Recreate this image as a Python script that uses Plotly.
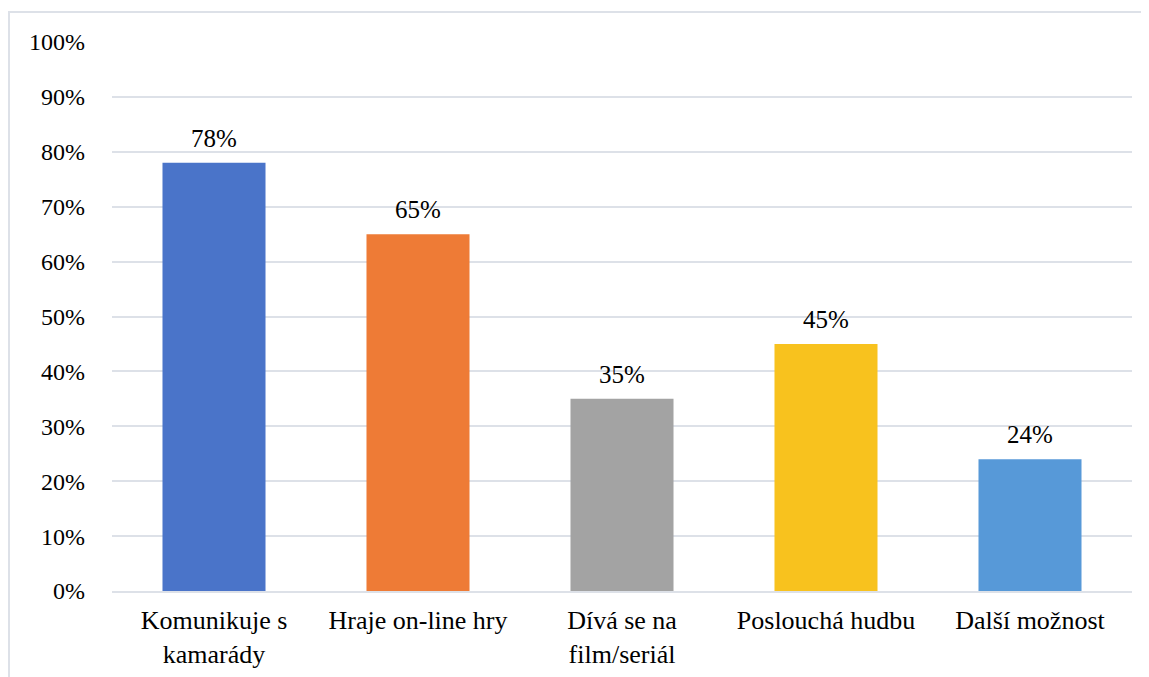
import plotly.graph_objects as go

categories = ["Komunikuje s<br>kamarády", "Hraje on-line hry", "Dívá se na<br>film/seriál",
              "Poslouchá hudbu", "Další možnost"]
values = [78, 65, 35, 45, 24]
value_labels = ["78%", "65%", "35%", "45%", "24%"]
colors = ["#4A74C9", "#EE7B36", "#A3A3A3", "#F8C21E", "#5799D8"]
tick_vals = [0, 10, 20, 30, 40, 50, 60, 70, 80, 90, 100]
tick_text = ["0%", "10%", "20%", "30%", "40%", "50%", "60%", "70%", "80%", "90%", "100%"]

_GRID = "#DDE1E8"
_FONT = "Liberation Serif, Times New Roman, serif"

fig = go.Figure(
    go.Bar(
        x=categories,
        y=values,
        marker={"color": colors, "line": {"width": 0}},
        width=0.505,
        hoverinfo="skip",
    )
)

# value labels a little above each bar
for cat, val, lab in zip(categories, values, value_labels):
    fig.add_annotation(
        x=cat, y=val, text=lab, showarrow=False,
        yanchor="bottom", yshift=9,
        font={"size": 25, "color": "#000000", "family": _FONT},
    )

# light outer frame of the chart area
fig.add_shape(
    type="rect", xref="paper", yref="paper",
    x0=-0.101, x1=1.1, y0=-0.3, y1=1.0546,
    line={"color": "#DDE1E8", "width": 2}, fillcolor="rgba(0,0,0,0)", layer="below",
)

fig.update_layout(
    width=1141,
    height=669,
    margin={"l": 104, "r": 17, "t": 34, "b": 86},
    paper_bgcolor="white",
    plot_bgcolor="white",
    font={"family": _FONT, "size": 24, "color": "#000000"},
    showlegend=False,
    xaxis={
        "showgrid": False,
        "showline": True,
        "linecolor": _GRID,
        "linewidth": 2,
        "ticks": "",
        "automargin": False,
        "ticklabelstandoff": 5,
        "tickfont": {"size": 26, "family": _FONT},
    },
    yaxis={
        "range": [0, 100],
        "tickvals": tick_vals,
        "ticktext": tick_text,
        "showgrid": True,
        "gridcolor": _GRID,
        "gridwidth": 2,
        "zeroline": False,
        "showline": False,
        "ticks": "",
        "automargin": False,
        "ticklabelstandoff": 26,
        "tickfont": {"size": 24, "family": _FONT},
    },
)

fig.write_html("out.html")
